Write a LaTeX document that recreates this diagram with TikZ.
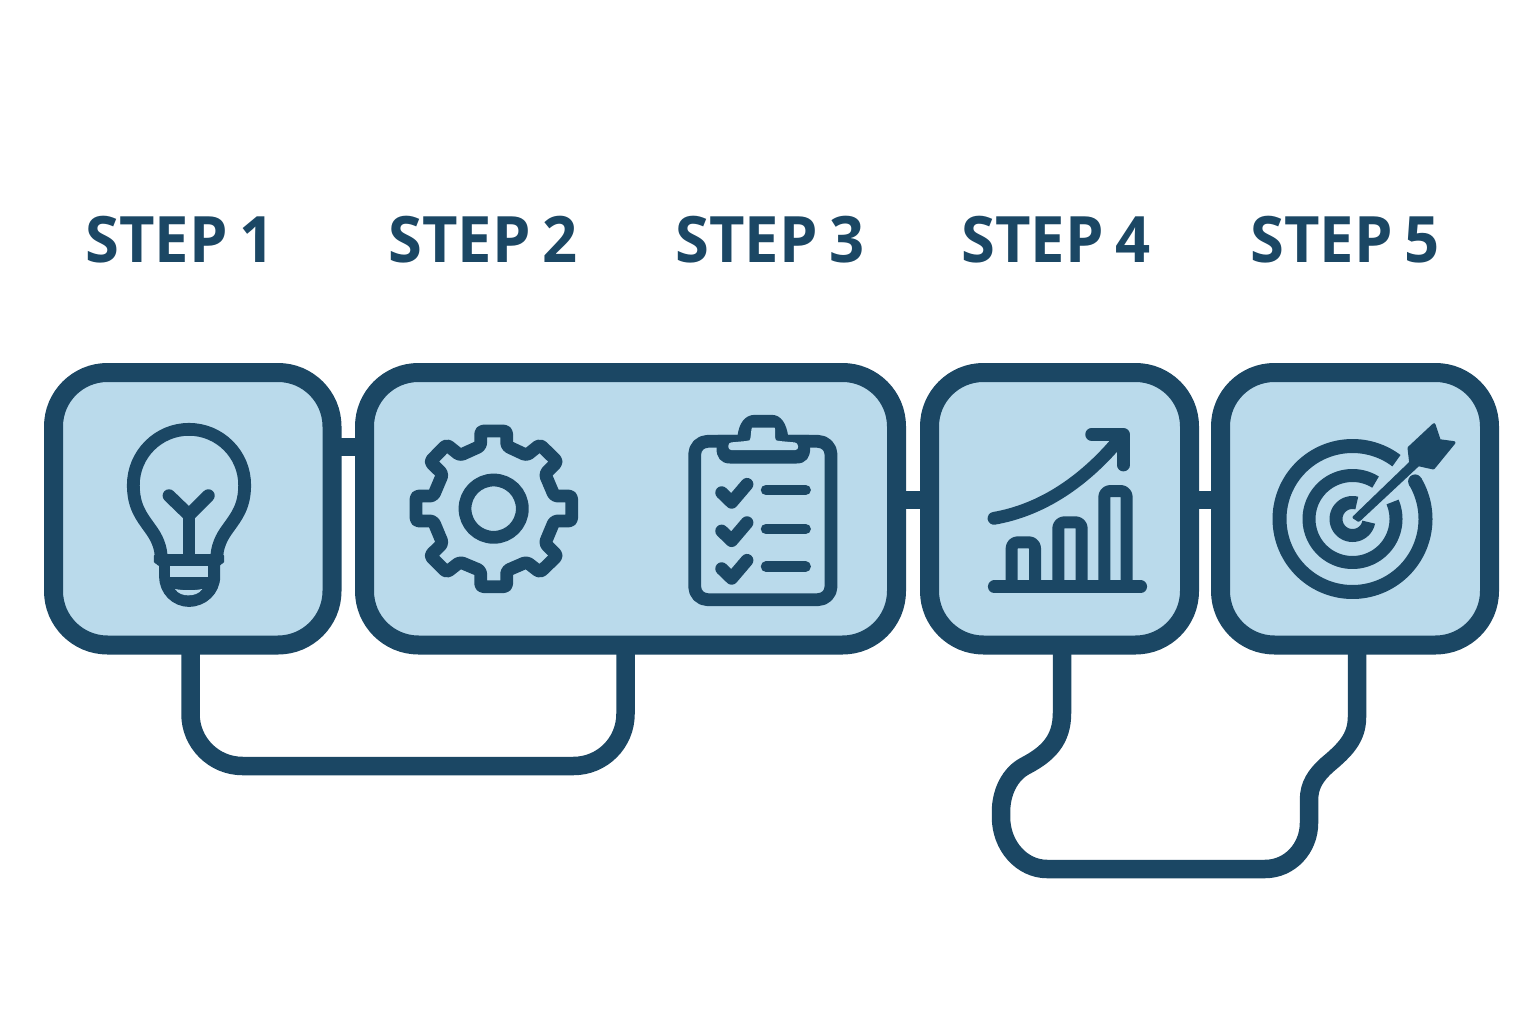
\documentclass[tikz,border=0pt]{standalone}
\usepackage{fontspec}
\setmainfont{Open Sans}[FakeStretch=0.96,WordSpace=0.75]
\definecolor{ink}{RGB}{27,71,100}
\definecolor{pale}{RGB}{186,218,235}
\tikzset{
  stepbox/.style={draw=ink,fill=pale,line width=19pt,rounded corners=54pt,inner sep=0pt,outer sep=0pt},
  conn/.style={draw=ink,line width=18.5pt},
  steplabel/.style={text=ink,font=\bfseries\fontsize{64}{64}\selectfont,anchor=base,inner sep=0pt},
  ic/.style={draw=ink,line width=12.8pt,line cap=round,line join=round},
  solidink/.style={fill=ink,draw=ink,line width=3pt,line join=round},
  palefill/.style={fill=pale},
  zoomed/.style={x=0.33333pt,y=-0.33333pt},
}
\begin{document}
\begin{tikzpicture}[x=1pt,y=-1pt]
\useasboundingbox[fill=white] (0,0) rectangle (1536,1024);
% labels
\node[steplabel] (l1) at (180,263) {STEP 1};
\node[steplabel] (l2) at (483,263) {STEP 2};
\node[steplabel] (l3) at (770,263) {STEP 3};
\node[steplabel] (l4) at (1056,263) {STEP 4};
\node[steplabel] (l5) at (1345,263) {STEP 5};
% boxes
\node[stepbox,minimum width=278.5pt,minimum height=272.5pt] (s1) at (192.75,508.75) {};
\node[stepbox,minimum width=532pt,minimum height=272.5pt] (s2) at (630.5,508.75) {};
\node[stepbox,minimum width=260pt,minimum height=272.5pt] (s3) at (1059.5,508.75) {};
\node[stepbox,minimum width=269pt,minimum height=272.5pt] (s4) at (1355,508.75) {};
% short connectors
\draw[conn] ([yshift=61.75pt]s1.east) -- ([yshift=61.75pt]s2.west);
\draw[conn] ([yshift=8.75pt]s2.east) -- ([yshift=8.75pt]s3.west);
\draw[conn] ([yshift=8.75pt]s3.east) -- ([yshift=8.75pt]s4.west);
% long connectors
\draw[conn,rounded corners=52pt] ([xshift=-2.25pt]s1.south) -- (190.5,766) -- (625.5,766) -- ([xshift=-5pt]s2.south);
\draw[conn] ([xshift=2.5pt]s3.south) -- (1062,713) .. controls (1062,740) and (1048,754) .. (1025,766)
  .. controls (1010,774) and (1001,792) .. (1001,812) -- (1001,817)
  .. controls (1001,846) and (1022,869) .. (1047,869) -- (1265,869)
  .. controls (1290,869) and (1309,848) .. (1309,823) -- (1309,800)
  .. controls (1309,785) and (1316,775) .. (1327,765)
  .. controls (1345,750) and (1357,738) .. (1357,717) -- ([xshift=2pt]s4.south);
% bulb
\begin{scope}[shift={(100,400)},zoomed]
  \draw[ic] (184,480) .. controls (184,440) and (170,412) .. (150,385) .. controls (125,350) and (100,320) .. (100,255)
    .. controls (100,163) and (175,88) .. (267,88) .. controls (359,88) and (434,163) .. (434,255)
    .. controls (434,320) and (409,350) .. (384,385) .. controls (364,412) and (350,440) .. (350,480);
  \draw[ic] (207,287) -- (267,345) -- (325,287);
  \draw[ic,line cap=butt] (267,345) -- (267,470);
  \path[solidink] (166,467) -- (368,467) -- (368,486) -- (356,486) -- (356,530)
    .. controls (356,578) and (315,616) .. (267,616) .. controls (220,616) and (182,578) .. (182,530)
    -- (182,486) -- (166,486) -- cycle;
  \path[palefill] (210,498) rectangle (325,531);
  \path[palefill] (225,567) .. controls (250,572) and (285,572) .. (307,567) .. controls (297,582) and (280,586) .. (265,586) .. controls (250,586) and (235,582) .. (225,567) -- cycle;
\end{scope}
% gear
\begin{scope}[shift={(395,410)},zoomed]
  \draw[ic,line cap=butt,rounded corners=3pt]
    (257,63) -- (257,108) -- (195,136) -- (155,104) -- (105,155) -- (143,192) -- (115,258) -- (63,258)
    -- (63,333) -- (115,333) -- (143,400) -- (105,437) -- (155,487) -- (195,456) -- (257,482) -- (257,530)
    -- (335,530) -- (335,482) -- (395,456) -- (435,487) -- (487,437) -- (450,400) -- (478,333) -- (530,333)
    -- (530,258) -- (478,258) -- (450,192) -- (487,155) -- (435,104) -- (395,136) -- (335,108) -- (335,63) -- cycle;
  \draw[ic] (296,296) circle [radius=86];
\end{scope}
% clipboard
\begin{scope}[shift={(675,405)},zoomed]
  \draw[ic,rounded corners=13pt] (59,109) rectangle (468,584);
  \path[solidink] (129,94) -- (192,94) .. controls (196,58) and (212,34) .. (240,34) -- (290,34)
    .. controls (315,34) and (330,58) .. (335,94) -- (401,94) -- (401,130) .. controls (401,155) and (390,171) .. (365,171)
    -- (165,171) .. controls (140,171) and (129,155) .. (129,130) -- cycle;
  \path[palefill,rounded corners=3pt] (160,113) -- (215,108) .. controls (228,105) and (228,68) .. (240,68) -- (290,68)
    .. controls (302,68) and (298,105) .. (312,108) -- (368,113) -- (370,135) -- (160,135) -- cycle;
  \foreach \dy in {0,115,228} {
    \draw[ic] (140,263+\dy) -- (170,292+\dy) -- (216,238+\dy);
  }
  \foreach \yy in {255,372,485} {
    \draw[ic,line width=10.5pt] (273,\yy) -- (392,\yy);
  }
\end{scope}
% chart
\begin{scope}[shift={(975,415)},zoomed]
  \draw[ic] (58,515) -- (497,515);
  \draw[ic,line width=12pt,rounded corners=6pt,line cap=butt] (110,515) -- (110,382) -- (180,382) -- (180,515);
  \draw[ic,line width=12pt,rounded corners=6pt,line cap=butt] (250,515) -- (250,322) -- (320,322) -- (320,515);
  \draw[ic,line width=12pt,rounded corners=6pt,line cap=butt] (388,515) -- (388,228) -- (455,228) -- (455,515);
  \draw[ic] (57,310) .. controls (200,285) and (330,200) .. (442,62);
  \draw[ic] (350,58) -- (445,58) -- (445,150);
\end{scope}
% target
\draw[ink,line width=14pt,line cap=butt] plot[domain=-31:307,samples=120] ({1352.5+73*cos(\x)},{519+73*sin(\x)});
\fill[ink] ({1352.5+73*cos(-31)},{519+73*sin(-31)}) circle [radius=7];
\draw[ink,line width=13pt,line cap=butt] plot[domain=-23:302,samples=100] ({1352.5+43.5*cos(\x)},{519+43.5*sin(\x)});
\draw[ink,line width=13pt,line cap=butt] plot[domain=11:285,samples=60] ({1352.5+16.5*cos(\x)},{519+16.5*sin(\x)});
\begin{scope}[shift={(1260,410)},zoomed]
  \path[solidink] (282,322) -- (452,158) -- (447,114) -- (522,44) -- (538,92) -- (582,98)
    -- (520,174) -- (475,164) -- (296,331) -- cycle;
\end{scope}
\end{tikzpicture}
\end{document}
